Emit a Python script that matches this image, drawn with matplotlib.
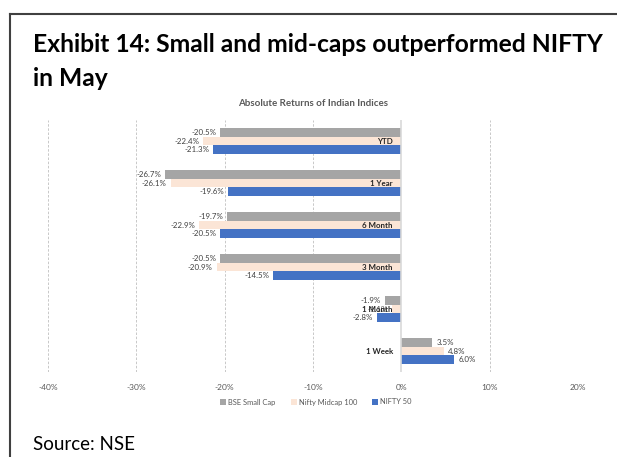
import numpy as np
import matplotlib
matplotlib.use("Agg")
from matplotlib import pyplot as plt
from matplotlib.patches import Patch
from matplotlib.lines import Line2D

# data
periods = ["YTD", "1 Year", "6 Month", "3 Month", "1 Month", "1 Week"]
bse_small = [-20.5, -26.7, -19.7, -20.5, -1.9, 3.5]
nifty_mid = [-22.4, -26.1, -22.9, -20.9, -1.1, 4.8]
nifty_50 = [-21.3, -19.6, -20.5, -14.5, -2.8, 6.0]
series_names = ["BSE Small Cap", "Nifty Midcap 100", "NIFTY 50"]
colors = ["#A5A5A5", "#FBE5D6", "#4472C4"]
x_ticks = [-40, -30, -20, -10, 0, 10, 20]

plt.rcParams['font.family'] = ['Lato', 'DejaVu Sans']

fig = plt.figure(figsize=(6.17, 4.57), dpi=100)
ax = fig.add_axes([48/617, 1 - 372/457, 530/617, 252/457])

y = np.arange(len(periods))
h = 0.2
for i, (vals, c) in enumerate(zip([bse_small, nifty_mid, nifty_50], colors)):
    pos = y + (i - 1) * h
    ax.barh(pos, vals, height=h, color=c, zorder=2)
    for p, v in zip(pos, vals):
        off = 3 if v > 0 else -3
        ax.annotate(f"{v:.1f}%", xy=(v, p), xytext=(off, 0), textcoords="offset points",
                    ha="left" if v > 0 else "right", va="center",
                    fontsize=5.7, color="#404040")

# category labels sit next to the zero line
for yy, lab in zip(y, periods):
    ax.annotate(lab, xy=(0, yy), xytext=(-6, 0), textcoords="offset points",
                ha="right", va="center", fontsize=5.7, fontweight="bold",
                color="#262626", zorder=4)

ax.set_xlim(-40, 20)
ax.set_ylim(len(periods) - 0.5, -0.5)
ax.set_xticks(x_ticks)
ax.set_xticklabels([f"{t}%" for t in x_ticks])
ax.tick_params(axis="x", length=0, labelsize=6, labelcolor="#595959", pad=9)
ax.set_yticks([])
for t in x_ticks:
    if t == 0:
        ax.axvline(0, color="#D9D9D9", lw=1.2, zorder=3)
    else:
        ax.axvline(t, color="#BFBFBF", lw=0.6, ls=(0, (3, 2)), zorder=1)
for spine in ax.spines.values():
    spine.set_visible(False)

fig.text(313/617, 1 - 103/457, "Absolute Returns of Indian Indices", ha="center",
         va="center", fontsize=7, fontweight="bold", color="#595959")

handles = [Patch(facecolor=c, edgecolor="none") for c in colors]
fig.legend(handles, series_names, loc="center", bbox_to_anchor=(316/617, 1 - 402/457),
           ncol=3, frameon=False, fontsize=5.4, labelcolor="#595959",
           handlelength=0.8, handleheight=0.8, handletextpad=0.3, columnspacing=2.0)

fig.text(33/617, 1 - 44/457, "Exhibit 14: Small and mid-caps outperformed NIFTY",
         ha="left", va="center", fontsize=17.7, fontweight="bold", color="black")
fig.text(33/617, 1 - 79/457, "in May", ha="left", va="center", fontsize=17.7,
         fontweight="bold", color="black")
fig.text(33/617, 1 - 444/457, "Source: NSE", ha="left", va="center", fontsize=13.5,
         color="black")

# outer frame (top and left edges)
fig.add_artist(Line2D([10/617, 10/617], [0, 1 - 14/457], transform=fig.transFigure,
                      color="#404040", lw=1.5))
fig.add_artist(Line2D([10/617, 1], [1 - 14/457, 1 - 14/457], transform=fig.transFigure,
                      color="#404040", lw=1.5))

fig.savefig("out.png", dpi=100)
